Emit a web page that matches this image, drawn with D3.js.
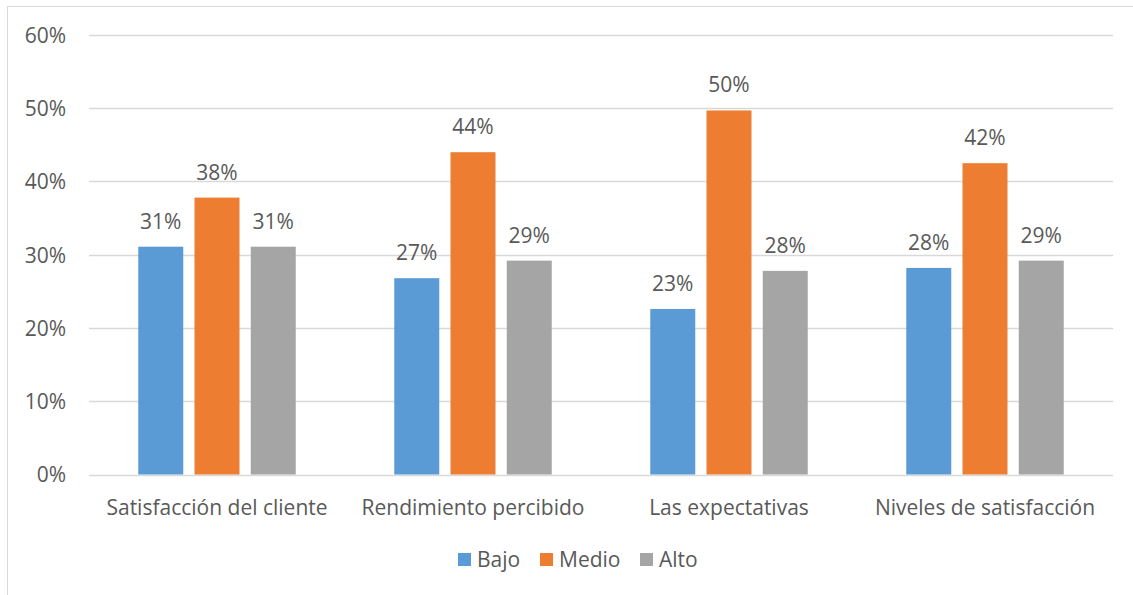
<!DOCTYPE html>
<html><head><meta charset="utf-8">
<script src="https://cdn.jsdelivr.net/npm/d3@7/dist/d3.min.js"></script>
<style>body{margin:0;background:#fff}text{font-family:"Open Sans",sans-serif;fill:#595959}</style>
</head><body><svg id="c" width="1133" height="595"></svg>
<script>
const categories = ["Satisfacción del cliente","Rendimiento percibido","Las expectativas","Niveles de satisfacción"];
const seriesNames = ["Bajo","Medio","Alto"];
const bajo = [0.311, 0.268, 0.226, 0.282];
const medio = [0.378, 0.440, 0.497, 0.425];
const alto = [0.311, 0.292, 0.278, 0.292];
const labelsBajo = ["31%","27%","23%","28%"];
const labelsMedio = ["38%","44%","50%","42%"];
const labelsAlto = ["31%","29%","28%","29%"];
const yTicks = [0,0.1,0.2,0.3,0.4,0.5,0.6];
const colors = ["#5b9bd5","#ed7d31","#a5a5a5"];

const FS = 21;
const svg = d3.select("#c");
svg.append("rect").attr("x",7.5).attr("y",6.5).attr("width",1140).attr("height",600)
  .attr("fill","#fff").attr("stroke","#d9d9d9").attr("stroke-width",1);

const L=89, R=1113, T=35, B=474.5;
const x = d3.scaleBand().domain(categories).range([L,R]).paddingInner(0).paddingOuter(0);
const x1 = d3.scaleBand().domain(seriesNames).range([0,x.bandwidth()]).paddingInner(0.2).paddingOuter(0.876);
const y = d3.scaleLinear().domain([0,0.6]).range([B,T]);

const g = svg.append("g");
g.selectAll(".grid").data(yTicks).join("line")
  .attr("x1",L).attr("x2",R).attr("y1",d=>Math.round(y(d))+0.5).attr("y2",d=>Math.round(y(d))+0.5)
  .attr("stroke","#d9d9d9").attr("stroke-width",1.3);

const yAxis = d3.axisLeft(y).tickValues(yTicks).tickFormat(d3.format(".0%")).tickSize(0).tickPadding(0);
const ya = svg.append("g").attr("transform",`translate(66,0)`).call(yAxis);
ya.select(".domain").remove();
ya.selectAll("text").attr("font-size",FS).attr("fill","#595959").attr("dy","0.35em").style("font-family","'Open Sans',sans-serif");

const xAxis = d3.axisBottom(x).tickSize(0).tickPadding(0);
const xa = svg.append("g").attr("transform",`translate(0,${B+40})`).call(xAxis);
xa.select(".domain").remove();
xa.selectAll("text").attr("font-size",FS).attr("fill","#595959").attr("dy","0").style("font-family","'Open Sans',sans-serif");

const series = [bajo, medio, alto];
const labels = [labelsBajo, labelsMedio, labelsAlto];
series.forEach((vals,si)=>{
  const sg = svg.append("g");
  sg.selectAll("rect").data(vals).join("rect")
    .attr("x",(d,i)=>x(categories[i])+x1(seriesNames[si]))
    .attr("y",d=>y(d)).attr("width",x1.bandwidth()).attr("height",d=>B-y(d))
    .attr("fill",colors[si]);
  sg.selectAll("text").data(vals).join("text")
    .attr("x",(d,i)=>x(categories[i])+x1(seriesNames[si])+x1.bandwidth()/2)
    .attr("y",d=>y(d)-18).attr("text-anchor","middle").attr("font-size",FS)
    .text((d,i)=>labels[si][i]);
});

const legX = [458, 540, 640];
const lg = svg.append("g");
seriesNames.forEach((n,i)=>{
  lg.append("rect").attr("x",legX[i]).attr("y",553).attr("width",13).attr("height",13).attr("fill",colors[i]);
  lg.append("text").attr("x",legX[i]+19).attr("y",567).attr("font-size",FS).text(n);
});
</script></body></html>
